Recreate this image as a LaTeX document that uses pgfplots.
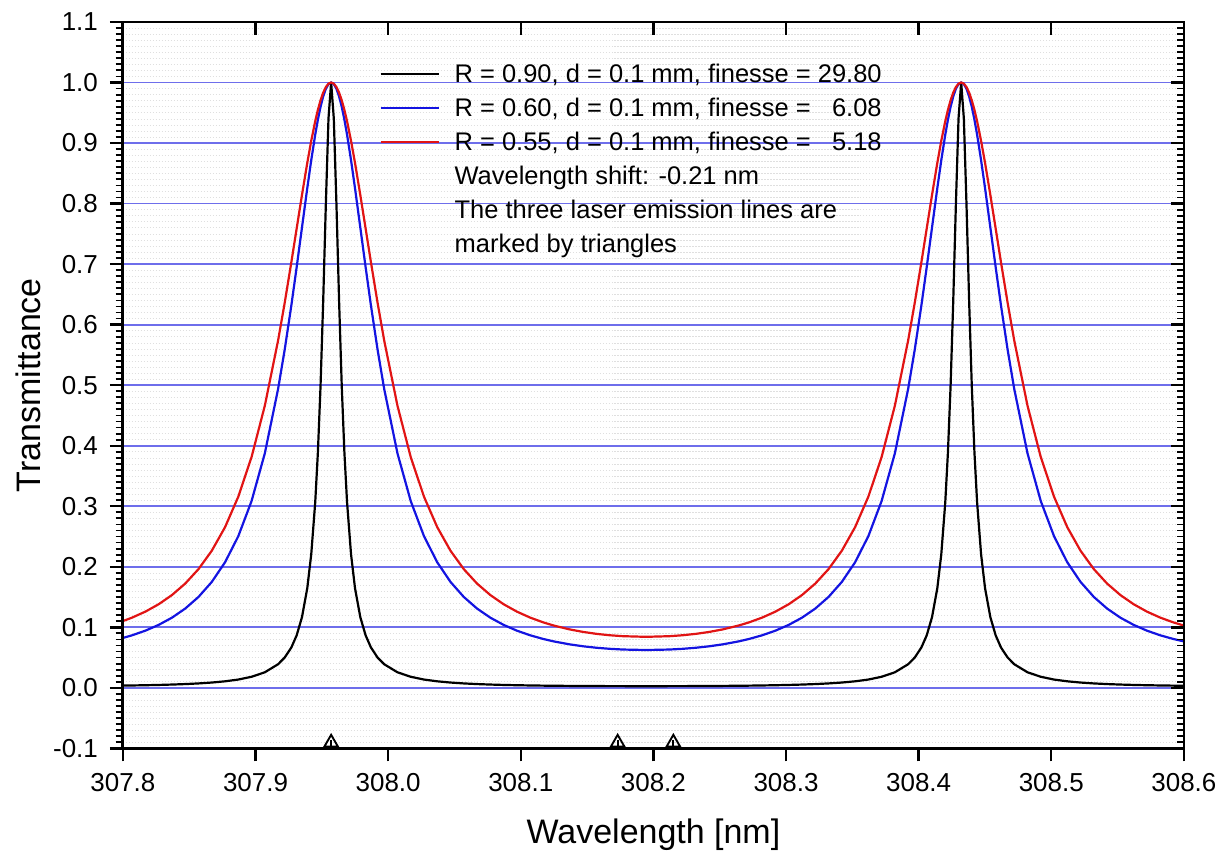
\documentclass[border=0pt]{standalone}
\usepackage{pgfplots}
\usepackage{pgfplotstable}
\pgfplotsset{compat=1.18}
\usepackage{fontspec}
\setmainfont{Liberation Sans}

\definecolor{curveblue}{RGB}{20,20,225}
\definecolor{curvered}{RGB}{225,20,20}
\definecolor{gridblue}{RGB}{110,110,235}

% Fabry-Perot transmittance (Airy function), FSR = 0.475 nm
% columns: wavelength, R = 0.90, R = 0.60, R = 0.55
\pgfplotstableread{
x        a        b        c
307.800  0.00373  0.08241  0.11032
307.807  0.00395  0.08686  0.11609
307.817  0.00433  0.09451  0.12596
307.827  0.00481  0.10404  0.13817
307.837  0.00544  0.11595  0.15333
307.847  0.00624  0.13099  0.17227
307.857  0.00731  0.15017  0.19613
307.867  0.00876  0.17495  0.22647
307.877  0.0108   0.20739  0.26539
307.887  0.0137   0.25051  0.31576
307.897  0.0183   0.30857  0.38126
307.907  0.0257   0.38739  0.46611
307.917  0.0390   0.49368  0.57379
307.922  0.0501   0.55879  0.63619
307.927  0.0667   0.63178  0.70317
307.931  0.0867   0.69483  0.75867
307.935  0.1167   0.76026  0.81407
307.939  0.1645   0.82536  0.86711
307.942  0.2207   0.87173  0.90369
307.945  0.3065   0.91384  0.93607
307.947  0.3887   0.93851  0.95470
307.949  0.4983   0.95973  0.97051
307.951  0.6383   0.97694  0.98319
307.953  0.7987   0.98961  0.99245
307.955  0.9407   0.99738  0.99810
307.957  1.0000   1.00000  1.00000
307.959  0.9407   0.99738  0.99810
307.961  0.7987   0.98961  0.99245
307.963  0.6383   0.97694  0.98319
307.965  0.4983   0.95973  0.97051
307.967  0.3887   0.93851  0.95470
307.969  0.3065   0.91384  0.93607
307.972  0.2207   0.87173  0.90369
307.975  0.1645   0.82536  0.86711
307.979  0.1167   0.76026  0.81407
307.983  0.0867   0.69483  0.75867
307.987  0.0667   0.63178  0.70317
307.992  0.0501   0.55879  0.63619
307.997  0.0390   0.49368  0.57379
308.007  0.0257   0.38739  0.46611
308.017  0.0183   0.30857  0.38126
308.027  0.0137   0.25051  0.31576
308.037  0.0108   0.20739  0.26539
308.047  0.00876  0.17495  0.22647
308.057  0.00731  0.15017  0.19613
308.067  0.00624  0.13099  0.17227
308.077  0.00544  0.11595  0.15333
308.087  0.00481  0.10404  0.13817
308.097  0.00433  0.09451  0.12596
308.107  0.00395  0.08686  0.11609
308.117  0.00364  0.08070  0.10810
308.125  0.00345  0.07664  0.10282
308.137  0.00321  0.07177  0.09646
308.147  0.00306  0.06864  0.09236
308.157  0.00295  0.06624  0.08921
308.167  0.00286  0.06448  0.08689
308.177  0.00281  0.06329  0.08533
308.1945 0.00277  0.06250  0.08429
308.212  0.00281  0.06329  0.08533
308.222  0.00286  0.06448  0.08689
308.232  0.00295  0.06624  0.08921
308.242  0.00306  0.06864  0.09236
308.252  0.00321  0.07177  0.09646
308.264  0.00345  0.07664  0.10282
308.272  0.00364  0.08070  0.10810
308.282  0.00395  0.08686  0.11609
308.292  0.00433  0.09451  0.12596
308.302  0.00481  0.10404  0.13817
308.312  0.00544  0.11595  0.15333
308.322  0.00624  0.13099  0.17227
308.332  0.00731  0.15017  0.19613
308.342  0.00876  0.17495  0.22647
308.352  0.0108   0.20739  0.26539
308.362  0.0137   0.25051  0.31576
308.372  0.0183   0.30857  0.38126
308.382  0.0257   0.38739  0.46611
308.392  0.0390   0.49368  0.57379
308.397  0.0501   0.55879  0.63619
308.402  0.0667   0.63178  0.70317
308.406  0.0867   0.69483  0.75867
308.410  0.1167   0.76026  0.81407
308.414  0.1645   0.82536  0.86711
308.417  0.2207   0.87173  0.90369
308.420  0.3065   0.91384  0.93607
308.422  0.3887   0.93851  0.95470
308.424  0.4983   0.95973  0.97051
308.426  0.6383   0.97694  0.98319
308.428  0.7987   0.98961  0.99245
308.430  0.9407   0.99738  0.99810
308.432  1.0000   1.00000  1.00000
308.434  0.9407   0.99738  0.99810
308.436  0.7987   0.98961  0.99245
308.438  0.6383   0.97694  0.98319
308.440  0.4983   0.95973  0.97051
308.442  0.3887   0.93851  0.95470
308.444  0.3065   0.91384  0.93607
308.447  0.2207   0.87173  0.90369
308.450  0.1645   0.82536  0.86711
308.454  0.1167   0.76026  0.81407
308.458  0.0867   0.69483  0.75867
308.462  0.0667   0.63178  0.70317
308.467  0.0501   0.55879  0.63619
308.472  0.0390   0.49368  0.57379
308.482  0.0257   0.38739  0.46611
308.492  0.0183   0.30857  0.38126
308.502  0.0137   0.25051  0.31576
308.512  0.0108   0.20739  0.26539
308.522  0.00876  0.17495  0.22647
308.532  0.00731  0.15017  0.19613
308.542  0.00624  0.13099  0.17227
308.552  0.00544  0.11595  0.15333
308.562  0.00481  0.10404  0.13817
308.572  0.00433  0.09451  0.12596
308.582  0.00395  0.08686  0.11609
308.592  0.00364  0.08070  0.10810
308.600  0.00345  0.07664  0.10282
}\airy

% laser emission lines
\pgfplotstableread{
x        y
307.957  -0.0905
308.173  -0.0905
308.215  -0.0905
}\lines

\pgfplotsset{
  frame/.style={
    scale only axis, width=531pt, height=363.5pt,
    xmin=307.8, xmax=308.6, ymin=-0.1, ymax=1.1,
    xtick={307.8,307.9,...,308.61}, ytick={-0.1,0,...,1.11},
    minor x tick num=9, minor y tick num=9,
    axis line style={line width=1.4pt},
    major tick style={line width=1.2pt, black},
    minor tick style={line width=0.9pt, black},
    major tick length=6.5pt, minor tick length=3.6pt,
  },
}

\begin{document}
\begin{tikzpicture}
\begin{axis}[
  frame,
  xtick pos=left, ytick pos=left, tick align=outside,
  ymajorgrids, xminorgrids, yminorgrids,
  major grid style={gridblue, line width=0.9pt},
  minor grid style={gray!25, line width=0.3pt, dash pattern=on 0.6pt off 0.9pt},
  tick label style={font=\fontsize{13}{15}\selectfont},
  xticklabel style={yshift=-2.5pt},
  yticklabel style={xshift=-2.5pt},
  /pgf/number format/.cd, assume math mode=true, fixed, fixed zerofill, precision=1, 1000 sep={},
  /pgfplots/.cd,
  xlabel={Wavelength [nm]}, ylabel={Transmittance},
  label style={font=\fontsize{17}{20}\selectfont},
  xlabel style={at={(axis description cs:0.5,0)}, anchor=base, yshift=-47.5pt},
  ylabel style={at={(axis description cs:0,0.5)}, anchor=center, yshift=47.5pt},
  legend style={at={(0.242,0.946)}, anchor=north west, draw=none, fill=none,
    inner sep=0pt, outer sep=0pt, row sep=4.3pt,
    font=\fontsize{12.75}{15}\selectfont,
    nodes={inner sep=0pt, text height=10.9pt, text depth=1.8pt},
    /tikz/every odd column/.append style={column sep=7.5pt}},
  legend cell align=left,
  legend image code/.code={\draw[#1, line width=1pt] (0pt,0pt) -- (29pt,0pt);},
]
\addplot[black, line width=1.1pt] table[x=x, y=a] {\airy};
\addlegendentry{R = 0.90, d = 0.1 mm, finesse = 29.80}
\addplot[curveblue, line width=1.1pt] table[x=x, y=b] {\airy};
\addlegendentry{R = 0.60, d = 0.1 mm, finesse = \phantom{2}6.08}
\addplot[curvered, line width=1.1pt] table[x=x, y=c] {\airy};
\addlegendentry{R = 0.55, d = 0.1 mm, finesse = \phantom{2}5.18}
\addlegendimage{empty legend}
\addlegendentry{Wavelength shift: -0.21 nm}
\addlegendimage{empty legend}
\addlegendentry{The three laser emission lines are}
\addlegendimage{empty legend}
\addlegendentry{marked by triangles}
\addplot[only marks, mark=triangle, mark size=3.9pt, black, line width=0.95pt, forget plot]
  table[x=x, y=y] {\lines};
\addplot[only marks, mark=|, mark size=2.3pt, black, line width=0.9pt, forget plot]
  table[x=x, y expr=\thisrow{y}-0.003] {\lines};
\end{axis}
\begin{axis}[
  frame,
  xtick pos=right, ytick pos=right, tick align=inside,
  xticklabels={}, yticklabels={},
]
\end{axis}
\pgfresetboundingbox
\useasboundingbox (-61.5pt,-53pt) rectangle (554.5pt,374.5pt);
\end{tikzpicture}
\end{document}
